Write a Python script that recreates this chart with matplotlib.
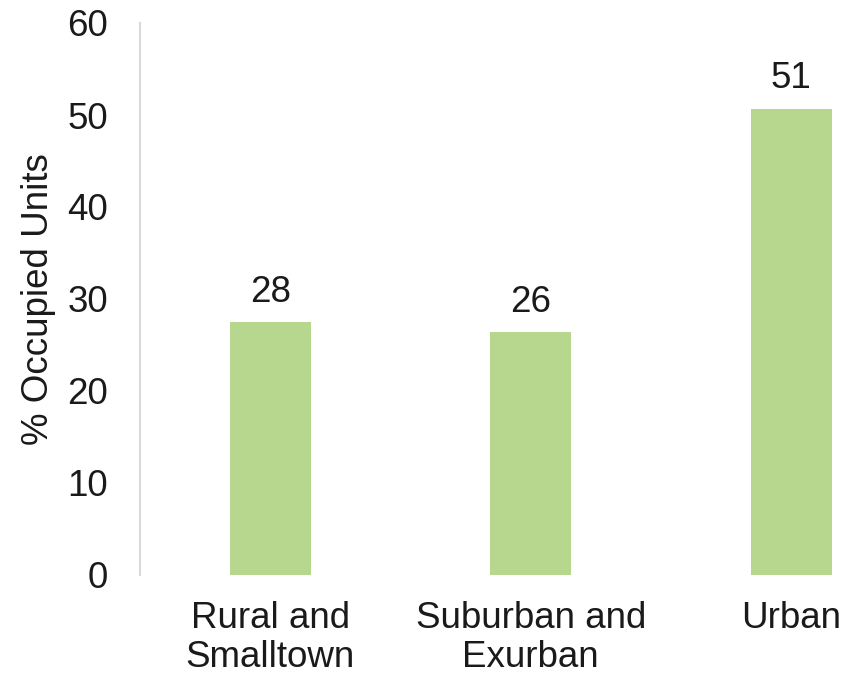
import matplotlib
matplotlib.use("Agg")
import matplotlib.pyplot as plt

# data
categories = ["Rural and\nSmalltown", "Suburban and\nExurban", "Urban"]
pct_occupied = [27.5, 26.4, 50.7]
yticks = [0, 10, 20, 30, 40, 50, 60]

BAR_COLOR = "#b7d78e"
TEXT_COLOR = "#1a1a1a"
FS = 26.5

plt.rcParams["font.family"] = ["Liberation Sans", "DejaVu Sans"]

fig = plt.figure(figsize=(8.53, 6.81), dpi=100)
ax = fig.add_axes([140 / 853, 106 / 681, 781.5 / 853, 552 / 681])

x = list(range(len(categories)))
bars = ax.bar(x, pct_occupied, width=0.31, color=BAR_COLOR)

for xi, v in zip(x, pct_occupied):
    ax.annotate(f"{round(v)}", (xi, v), xytext=(0, 9), textcoords="offset points",
                ha="center", va="bottom", fontsize=FS, color=TEXT_COLOR)

ax.set_xlim(-0.5, 2.5)
ax.set_ylim(0, 60)
ax.set_yticks(yticks)
ax.set_xticks(x)
ax.set_xticklabels(categories, fontsize=FS, color=TEXT_COLOR, linespacing=1.12)
ax.tick_params(axis="y", length=0, pad=23, labelsize=FS, labelcolor=TEXT_COLOR)
ax.tick_params(axis="x", length=0, pad=19)
ax.set_ylabel("% Occupied Units", fontsize=FS, color=TEXT_COLOR, labelpad=8)

for s in ["top", "right", "bottom"]:
    ax.spines[s].set_visible(False)
ax.spines["left"].set_color("#d9d9d9")
ax.spines["left"].set_linewidth(1.5)

fig.savefig("out.png", dpi=100)
